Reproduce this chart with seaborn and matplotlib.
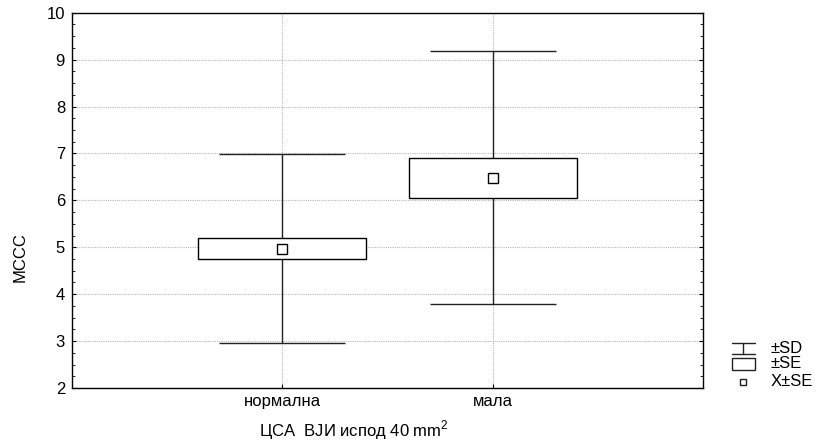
import numpy as np
import matplotlib
matplotlib.use("Agg")
import matplotlib.pyplot as plt
from matplotlib.patches import Rectangle
from matplotlib.ticker import MultipleLocator
import seaborn as sns

# values (mean, SE, SD per group)
categories = ["нормална", "мала"]
means = [4.97, 6.48]
se = [0.22, 0.42]
sd = [2.01, 2.70]

sns.set_theme(style="white")
plt.rcParams["font.family"] = ["Liberation Sans", "DejaVu Sans"]
plt.rcParams["font.size"] = 12
plt.rcParams["mathtext.fontset"] = "custom"
plt.rcParams["mathtext.rm"] = "Liberation Sans"

fig = plt.figure(figsize=(8.17, 4.43), dpi=100)
ax = fig.add_axes([72 / 817, 1 - 388 / 443, (703 - 72) / 817, (388 - 12.7) / 443])

pos = np.arange(len(categories))
m = np.array(means)
s_e = np.array(se)
s_d = np.array(sd)

# whiskers (±SD)
ax.vlines(pos, m - s_d, m + s_d, color="#222222", linewidth=1, zorder=2)
ax.hlines(m + s_d, pos - 0.3, pos + 0.3, color="#222222", linewidth=1, zorder=2)
ax.hlines(m - s_d, pos - 0.3, pos + 0.3, color="#222222", linewidth=1, zorder=2)

# boxes (±SE)
sns.barplot(x=categories, y=2 * s_e, bottom=m - s_e, width=0.8, errorbar=None,
            color="white", saturation=1, facecolor="white", edgecolor="black",
            linewidth=1, zorder=3, ax=ax)

# means
sns.pointplot(x=categories, y=means, errorbar=None, marker="s", linestyle="none",
              color="black", markerfacecolor="white", markeredgecolor="black",
              markersize=6.5, markeredgewidth=1, zorder=4, ax=ax)

ax.set_xlim(-1, 2)
ax.set_ylim(2, 10)
ax.set_xticks(pos)
ax.set_xticklabels(categories)
ax.yaxis.set_major_locator(MultipleLocator(1))
ax.yaxis.set_minor_locator(MultipleLocator(0.25))
ax.grid(True, which="major", linestyle=(0, (1, 1)), color="#b8b8b8", linewidth=0.8, zorder=0)
ax.set_axisbelow(True)

for sp in ax.spines.values():
    sp.set_visible(True)
    sp.set_color("black")
    sp.set_linewidth(1)

ax.tick_params(axis="y", which="both", direction="in", left=True, right=True,
               labelleft=True, labelright=False, colors="black", labelsize=12, pad=5)
ax.tick_params(axis="y", which="major", length=3, width=0.8)
ax.tick_params(axis="y", which="minor", length=2, width=0.6)
ax.tick_params(axis="x", which="major", direction="in", bottom=True, top=False,
               length=3, width=0.8, colors="black", labelsize=12, pad=4)

ax.set_ylabel("МССС", fontsize=12, color="black")
ax.yaxis.label.set_va("center")
ax.yaxis.set_label_coords((20 - 72) / 631, (388 - 257) / 375.3)
ax.set_xlabel("ЦСА  ВЈИ испод 40 mm$^2$", fontsize=12, color="black")
ax.xaxis.label.set_va("baseline")
ax.xaxis.set_label_coords((354 - 72) / 631, (388 - 436) / 375.3)

# legend drawn in pixel space to the right of the plot
lg = fig.add_axes([0, 0, 1, 1])
lg.set_xlim(0, 817)
lg.set_ylim(443, 0)
lg.axis("off")
lg.patch.set_alpha(0)
lc = "#222222"
lg.plot([732, 755], [343, 343], color=lc, lw=1)
lg.plot([732, 755], [353.5, 353.5], color=lc, lw=1)
lg.plot([743.5, 743.5], [343, 353.5], color=lc, lw=1)
lg.add_patch(Rectangle((732, 357.5), 23, 12.5, facecolor="white", edgecolor=lc, lw=1))
lg.plot([743.5], [381.5], marker="s", markersize=5, markerfacecolor="white",
        markeredgecolor=lc, markeredgewidth=1, linestyle="none")
lg.text(771, 348.5, "±SD", va="center", ha="left", fontsize=12, color="black")
lg.text(771, 364, "±SE", va="center", ha="left", fontsize=12, color="black")
lg.text(771, 381.5, "X±SE", va="center", ha="left", fontsize=12, color="black")

fig.savefig("out.png", dpi=100)
